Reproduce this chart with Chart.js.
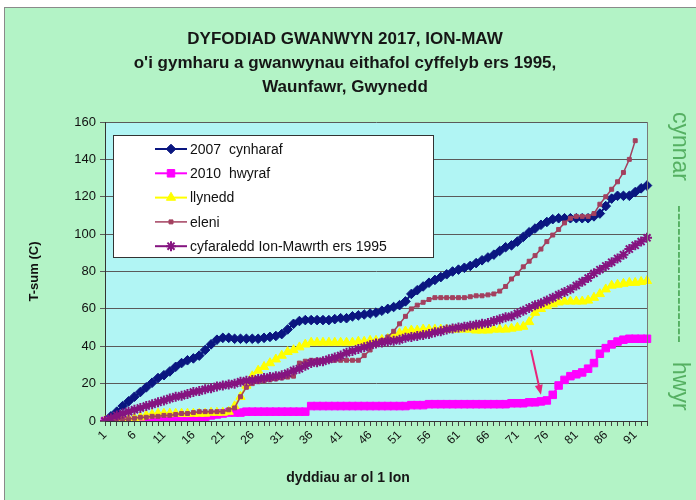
<!DOCTYPE html>
<html><head><meta charset="utf-8">
<script src="https://cdn.jsdelivr.net/npm/chart.js@4.4.1/dist/chart.umd.min.js"></script>
<style>html,body{margin:0;padding:0;background:#fff}#wrap{position:absolute;left:0;top:0;width:696px;height:500px}</style>
</head><body><div id="wrap"><canvas id="c" width="696" height="500"></canvas></div>
<script>
const days = ['1','2','3','4','5','6','7','8','9','10','11','12','13','14','15','16','17','18','19','20','21','22','23','24','25','26','27','28','29','30','31','32','33','34','35','36','37','38','39','40','41','42','43','44','45','46','47','48','49','50','51','52','53','54','55','56','57','58','59','60','61','62','63','64','65','66','67','68','69','70','71','72','73','74','75','76','77','78','79','80','81','82','83','84','85','86','87','88','89','90','91','92','93'];
const xTickLabels = ['1','6','11','16','21','26','31','36','41','46','51','56','61','66','71','76','81','86','91'];
const yTicks = [0,20,40,60,80,100,120,140,160];
const titleLines = ['DYFODIAD GWANWYN 2017, ION-MAW','o\'i gymharu a gwanwynau eithafol cyffelyb ers 1995,','Waunfawr, Gwynedd'];
const seriesNames = ['2007  cynharaf','2010  hwyraf','llynedd','eleni','cyfaraledd Ion-Mawrth ers 1995'];

const y2007 = [0,2.5,5,8,10.5,13,15.5,18,20.5,23,
  24.5,26.5,29,31,32.5,33.5,35,38,41,43.5,
  44.5,44.5,44,44,44,44,44,44.5,45,45.5,
  46.5,49,52,53.5,54,54,54,54,54,54.5,
  55,55,56,56.5,57,57.5,58,59,60,61,
  62,64,68,70,72,74,75.5,77,78.5,80,
  81,82,83,84.5,86,87.5,89,91,93,94,
  96,98.5,101,103,105,106.5,108,108.5,108.5,108.5,
  108.5,108.5,108.5,109.5,111,115,119,120.5,120.5,120.5,
  122.5,124.5,126];
const y2010 = [0,0,0,0,0,0,0,0,0,0,
  0,0,0,0,0,0.5,1,2,3,3.5,
  4,4.5,4.5,4.5,5,5,5,5,5,5,
  5,5,5,5,5,8,8,8,8,8,
  8,8,8,8,8,8,8,8,8,8,
  8,8,8.5,8.5,8.5,9,9,9,9,9,
  9,9,9,9,9,9,9,9,9,9.5,
  9.5,9.5,10,10,10.5,11,14,19,22,24,
  25,26,28,31,36,39,41,42.5,43.5,44,
  44,44,44];
const yLlynedd = [0,0,0.5,0.5,1,1.5,2,3,3.5,4,
  4,4,4,4,4,4,4,4,4.5,4.5,
  4.5,5,8,13,19,24,27,29,31,33,
  35,37,38,39.5,41,42,42,42,42,42,
  42,42,42,42.5,42.5,43,43,43.5,44,45.5,
  47,48,48.5,48.5,49,49,49,49,49,49,
  49,49,49,48.5,48.5,48.5,49,49,49,49.5,
  50,50.5,53,58,60,61.5,62.5,63.5,64,64,
  64,64,64.5,66,68,70.5,72.5,73,73.5,74,
  74,74.5,75];
const yEleni = [0,0,0.5,1,1,1.5,2,2,2.5,2.5,
  3,3,3.5,4,4,4.5,5,5,5,5,
  5,6,7,13,18,20,21,21.5,22,22.5,
  23,23.5,24,31,32,32.5,32.5,32.5,32.5,32.5,
  32.5,32.5,32.5,32.5,35,38,41,43,45,48,
  52,56,60,62,63.5,65,66,66,66,66,
  66,66,66.5,67,67,67.5,68,69.5,72,76,
  79,82.5,85.5,88.5,92,96,99.5,102.5,106,108.5,
  109.5,109.5,109.5,111,116,120,124,128,133,140,
  150];
const yAverage = [0,1.5,3,4,5,6,7,8,9,10,
  11,12,13,13.5,14.5,15.5,16,17,17.5,18.5,
  19,19.5,20,21,21.5,22,22.5,23,23.5,24,
  24.5,25.5,27,28,29.5,31,31.5,32,33,34,
  35,36.5,37.5,38.5,39.5,40.5,41.5,42,42.5,43,
  43.5,44.5,45,45.5,46,46.5,47.5,48,49,49.5,
  50,50.5,51,51.5,52,52.5,53.5,54.5,55.5,56,
  57.5,59,60.5,62,63,64.5,66,67.5,69,70.5,
  72.5,74.5,76.5,79,81,83,85,87,89,92,
  94,96,98];

const FONT = '"Liberation Sans", Arial, sans-serif';

const deco = {
  id: 'deco',
  beforeDraw(chart) {
    const ctx = chart.ctx, ca = chart.chartArea;
    ctx.save();
    ctx.fillStyle = '#ffffff';
    ctx.fillRect(0, 0, chart.width, chart.height);
    ctx.fillStyle = '#b3f3c6';
    ctx.fillRect(4, 7, chart.width - 4, chart.height - 7);
    ctx.strokeStyle = '#8a8a8a';
    ctx.lineWidth = 1;
    ctx.strokeRect(4.5, 7.5, chart.width, chart.height);
    ctx.fillStyle = '#b1f5f4';
    ctx.fillRect(ca.left, ca.top, ca.right - ca.left, ca.bottom - ca.top);
    ctx.restore();
  },
  afterDraw(chart) {
    const ctx = chart.ctx, ca = chart.chartArea;
    const xs = chart.scales.x, ys = chart.scales.y;
    ctx.save();
    ctx.strokeStyle = '#7a7a7a';
    ctx.lineWidth = 1;
    ctx.beginPath();
    ctx.moveTo(Math.round(ca.right) + 0.5, ca.top);
    ctx.lineTo(Math.round(ca.right) + 0.5, ca.bottom);
    ctx.stroke();
    ctx.fillStyle = '#161616';
    ctx.font = 'bold 17px ' + FONT;
    ctx.textAlign = 'center';
    ctx.textBaseline = 'middle';
    titleLines.forEach((t, i) => ctx.fillText(t, 345, 39 + i * 24));
    ctx.font = 'bold 14px ' + FONT;
    ctx.fillText('dyddiau ar ol 1 Ion', 348, 478);
    ctx.fillStyle = '#55b062';
    ctx.font = '23px ' + FONT;
    ctx.textAlign = 'left';
    ctx.textBaseline = 'alphabetic';
    [['cynnar', 112], ['------------------', 205], ['hwyr', 362]].forEach(([t, y]) => {
      ctx.save();
      ctx.translate(673, y);
      ctx.rotate(Math.PI / 2);
      ctx.fillText(t, 0, 0);
      ctx.restore();
    });
    const tx = xs.getPixelForValue(74), ty = ys.getPixelForValue(14);
    const fx = xs.getPixelForValue(72.3), fy = ys.getPixelForValue(38);
    ctx.strokeStyle = '#e8237a';
    ctx.fillStyle = '#e8237a';
    ctx.lineWidth = 2;
    const ang = Math.atan2(ty - fy, tx - fx);
    ctx.beginPath();
    ctx.moveTo(fx, fy);
    ctx.lineTo(tx - 7 * Math.cos(ang), ty - 7 * Math.sin(ang));
    ctx.stroke();
    ctx.beginPath();
    ctx.moveTo(tx, ty);
    ctx.lineTo(tx - 10 * Math.cos(ang) + 4 * Math.sin(ang), ty - 10 * Math.sin(ang) - 4 * Math.cos(ang));
    ctx.lineTo(tx - 10 * Math.cos(ang) - 4 * Math.sin(ang), ty - 10 * Math.sin(ang) + 4 * Math.cos(ang));
    ctx.closePath();
    ctx.fill();
    const bx = ca.left + 8, by = ca.top + 13, bw = 320, bh = 122;
    ctx.fillStyle = '#ffffff';
    ctx.fillRect(bx, by, bw, bh);
    ctx.strokeStyle = '#333333';
    ctx.lineWidth = 1;
    ctx.strokeRect(Math.round(bx) + 0.5, Math.round(by) + 0.5, bw, bh);
    ctx.font = '14px ' + FONT;
    ctx.textAlign = 'left';
    ctx.textBaseline = 'middle';
    chart.data.datasets.forEach((ds, i) => {
      const ry = by + 14 + i * 24.3;
      ctx.strokeStyle = ds.borderColor;
      ctx.lineWidth = ds.borderWidth;
      ctx.beginPath();
      ctx.moveTo(bx + 42, ry);
      ctx.lineTo(bx + 74, ry);
      ctx.stroke();
      ctx.fillStyle = ds.pointBackgroundColor;
      ctx.strokeStyle = ds.pointBorderColor;
      ctx.lineWidth = ds.pointBorderWidth;
      Chart.helpers.drawPoint(ctx, {pointStyle: ds.pointStyle, rotation: 0, radius: ds.pointRadius, borderWidth: ds.pointBorderWidth}, bx + 58, ry);
      ctx.fillStyle = '#111111';
      ctx.fillText(ds.label, bx + 77, ry + 1);
    });
    ctx.restore();
  }
};

const mk = (label, data, color, style, radius, lw, order, pbw) => ({
  label, data,
  borderColor: color, backgroundColor: color,
  pointBackgroundColor: color, pointBorderColor: color,
  pointStyle: style, pointRadius: radius, pointHoverRadius: radius,
  pointBorderWidth: pbw,
  borderWidth: lw, tension: 0, fill: false, order
});

new Chart(document.getElementById('c'), {
  type: 'line',
  data: {
    labels: days,
    datasets: [
      mk(seriesNames[0], y2007, '#0a1680', 'rectRot', 4.8, 2, 4, 1),
      mk(seriesNames[1], y2010, '#ff00ff', 'rect', 5.3, 2, 3, 1),
      mk(seriesNames[2], yLlynedd, '#ffff00', 'triangle', 5.3, 2, 2, 1),
      mk(seriesNames[3], yEleni, '#a3405f', 'rect', 2.8, 1.5, 1, 1),
      mk(seriesNames[4], yAverage, '#851480', 'star', 5, 2, 0, 2)
    ]
  },
  options: {
    responsive: false,
    devicePixelRatio: 1,
    animation: false,
    events: [],
    layout: { padding: { left: 0, top: 122, right: 49, bottom: 0 } },
    plugins: { legend: { display: false }, title: { display: false }, tooltip: { enabled: false } },
    scales: {
      x: {
        type: 'category',
        offset: false,
        afterFit(s) { s.height = 79; },
        grid: { drawOnChartArea: false, drawTicks: true, tickLength: 5, color: '#444444' },
        border: { display: true, color: '#333333', width: 1 },
        ticks: {
          autoSkip: false, minRotation: 45, maxRotation: 45, padding: 2,
          color: '#111111', font: { family: FONT, size: 12 },
          callback(v, i) { const l = days[i]; return xTickLabels.includes(l) ? l : ''; }
        }
      },
      y: {
        min: 0, max: 160,
        afterFit(s) { s.width = 105; },
        afterBuildTicks(s) { s.ticks = yTicks.map(v => ({ value: v })); },
        grid: { color: '#5a5a5a', lineWidth: 1, drawTicks: true, tickLength: 5 },
        border: { display: true, color: '#333333', width: 1 },
        ticks: { color: '#111111', padding: 4, font: { family: FONT, size: 13 } },
        title: { display: true, text: 'T-sum (C)', color: '#111111', font: { family: FONT, size: 13, weight: 'bold' }, padding: { top: 27, bottom: 0 } }
      }
    }
  },
  plugins: [deco]
});
</script></body></html>
